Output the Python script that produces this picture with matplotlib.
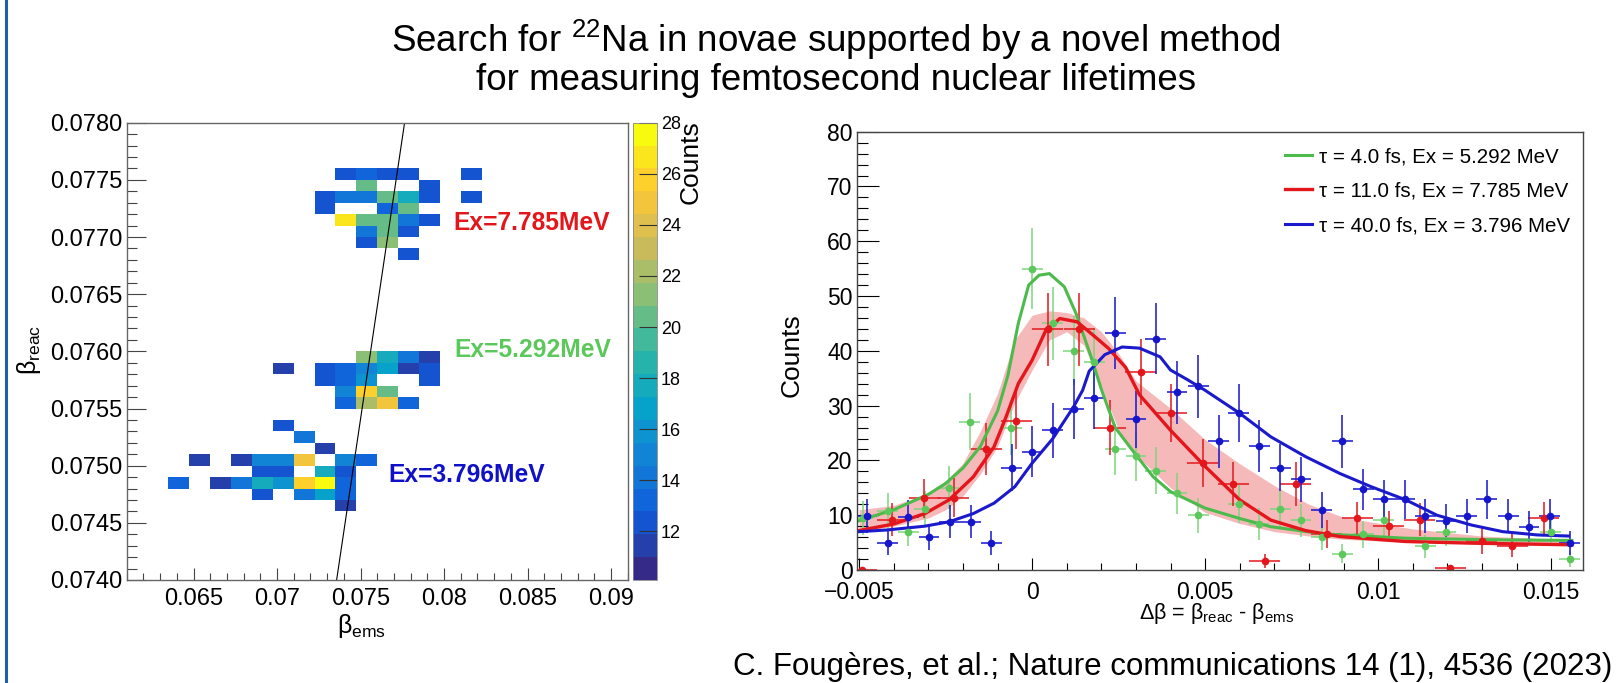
import numpy as np
import matplotlib
matplotlib.use("Agg")
import matplotlib.pyplot as plt
from matplotlib.colors import LinearSegmentedColormap, Normalize
from matplotlib.ticker import MultipleLocator, FuncFormatter
from matplotlib.lines import Line2D

plt.rcParams['font.family'] = ['Liberation Sans', 'DejaVu Sans']
plt.rcParams['mathtext.fontset'] = 'custom'
plt.rcParams['mathtext.rm'] = 'Liberation Sans'
plt.rcParams['mathtext.it'] = 'Liberation Sans:italic'
plt.rcParams['mathtext.bf'] = 'Liberation Sans:bold'

# ---- left panel: beta_reac vs beta_ems histogram (bin centres + counts)
ems = [0.073875, 0.075125, 0.076375, 0.077625, 0.081375,
       0.075125, 0.078875,
       0.072625, 0.073875, 0.075125, 0.076375, 0.077625, 0.078875, 0.081375,
       0.072625, 0.076375, 0.077625,
       0.073875, 0.075125, 0.076375, 0.077625, 0.078875,
       0.075125, 0.076375, 0.077625,
       0.075125, 0.076375,
       0.077625,
       0.075125, 0.076375, 0.077625, 0.078875,
       0.070125, 0.072625, 0.073875, 0.075125, 0.076375, 0.077625, 0.078875,
       0.072625, 0.073875, 0.075125, 0.078875,
       0.073875, 0.075125, 0.076375,
       0.073875, 0.075125, 0.076375, 0.077625,
       0.070125, 0.071375, 0.072625,
       0.065125, 0.067625, 0.068875, 0.070125, 0.071375, 0.073875, 0.075125,
       0.068875, 0.070125, 0.072625, 0.073875,
       0.063875, 0.066375, 0.067625, 0.068875, 0.070125, 0.071375, 0.072625, 0.073875,
       0.068875, 0.071375, 0.072625, 0.073875,
       0.073875]
reac = [0.07755] * 5 + [0.07745] * 2 + [0.07735] * 7 + [0.07725] * 3 + \
       [0.07715] * 5 + [0.07705] * 3 + [0.07695] * 2 + [0.07685] + \
       [0.07595] * 4 + [0.07585] * 7 + [0.07575] * 4 + [0.07565] * 3 + \
       [0.07555] * 4 + [0.07535, 0.07525, 0.07515] + [0.07505] * 7 + \
       [0.07495] * 4 + [0.07485] * 8 + [0.07475] * 4 + [0.07465]
counts = [12, 13.5, 12, 12, 12,
          20, 12,
          12, 14, 14, 20, 17.5, 12, 12,
          12, 13.5, 20,
          27, 20, 20, 14, 12,
          14, 20, 12,
          12, 21.5,
          12,
          21.5, 17.5, 14, 11.5,
          11, 12.5, 13.5, 15, 17, 11, 12,
          12.5, 13, 16, 12,
          15, 26, 20,
          13, 22, 24.5, 13,
          12.5, 14, 11,
          11, 11, 15, 15, 24.5, 15, 13,
          12, 12, 18, 12,
          13, 11, 14.5, 18, 15.5, 26, 28, 13,
          12.5, 14.5, 17, 13.5,
          11]
cut_ems = [0.07357, 0.07764]
cut_reac = [0.0740, 0.0780]
z_ticks = [12, 14, 16, 18, 20, 22, 24, 26, 28]

# ---- right panel: data points
green_x = [-0.0049, -0.00417, -0.00358, -0.0031, -0.0024, -0.0018, -0.0006, 0.0, 0.00059, 0.0012,
           0.0018, 0.0024, 0.003, 0.00357, 0.00419, 0.0048, 0.00597, 0.00656, 0.00717, 0.00777,
           0.00837, 0.00896, 0.00957, 0.01016, 0.01136, 0.01196, 0.01499, 0.01554]
green_y = [9.5, 10.8, 7.0, 11.1, 15.0, 27.1, 26.0, 55.0, 45.0, 40.0,
           38.0, 22.0, 20.8, 18.1, 14.0, 10.0, 12.0, 8.4, 11.1, 9.1,
           6.1, 3.0, 6.5, 9.1, 4.3, 7.0, 7.0, 2.0]
green_yerr = [3.1, 3.3, 2.6, 3.3, 3.9, 5.2, 5.1, 7.4, 6.7, 6.3,
              6.2, 4.7, 4.6, 4.3, 3.7, 3.2, 3.5, 2.9, 3.3, 3.0,
              2.5, 1.7, 2.5, 3.0, 2.1, 2.6, 2.6, 1.4]
green_xerr = 0.0003

red_x = [-0.00492, -0.00404, -0.00312, -0.00226, -0.00132, -0.00046, 0.00045, 0.00136, 0.00225,
         0.00314, 0.00402, 0.00493, 0.00582, 0.00672, 0.00762, 0.00851, 0.0094, 0.0103, 0.0112,
         0.01209, 0.01299, 0.01388, 0.01478]
red_y = [0.0, 9.2, 13.1, 13.2, 22.1, 27.2, 43.9, 43.9, 26.0,
         36.2, 28.6, 19.6, 15.7, 1.6, 15.7, 6.6, 9.4, 8.0, 9.2,
         0.3, 5.3, 4.4, 9.4]
red_yerr = [0, 3.0, 3.6, 3.6, 4.7, 5.2, 6.6, 6.6, 5.1,
            6.0, 5.3, 4.4, 4.0, 1.3, 4.0, 2.6, 3.1, 2.8, 3.0,
            0.5, 2.3, 2.1, 3.1]
red_xerr = 0.00045

blue_x = [-0.00478, -0.00417, -0.00358, -0.00298, -0.00238, -0.00178, -0.00118, -0.00059, 0.0,
          0.00059, 0.0012, 0.00179, 0.0024, 0.003, 0.00357, 0.00419, 0.0048, 0.00539, 0.00597,
          0.00657, 0.00717, 0.00777, 0.00837, 0.00896, 0.00957, 0.01016, 0.01077, 0.01136,
          0.01196, 0.01256, 0.01314, 0.01376, 0.01436, 0.01496, 0.01554]
blue_y = [9.9, 4.9, 9.7, 6.0, 8.8, 8.8, 4.9, 18.7, 21.6,
          25.5, 29.4, 31.4, 43.2, 27.5, 42.2, 32.4, 33.5, 23.5, 28.6,
          22.6, 18.7, 16.6, 10.9, 23.5, 14.7, 12.9, 12.9, 9.9,
          9.0, 9.9, 12.9, 9.9, 7.9, 9.9, 4.9]
blue_yerr = [3.1, 2.2, 3.1, 2.4, 3.0, 3.0, 2.2, 4.3, 4.6,
             5.0, 5.4, 5.6, 6.6, 5.2, 6.5, 5.7, 5.8, 4.8, 5.3,
             4.8, 4.3, 4.1, 3.3, 4.8, 3.8, 3.6, 3.6, 3.1,
             3.0, 3.1, 3.6, 3.1, 2.8, 3.1, 2.2]
blue_xerr = 0.0003

# ---- right panel: fitted curves
gfit_x = [-0.005, -0.004, -0.003, -0.0025, -0.002, -0.0015, -0.001, -0.0007, -0.0004, -0.0001,
          0.0002, 0.0005, 0.00093, 0.00127, 0.0017, 0.002, 0.0024, 0.003, 0.0035, 0.004,
          0.005, 0.006, 0.0069, 0.0084, 0.0108, 0.0136, 0.0156]
gfit_y = [9.0, 11.0, 13.8, 15.8, 18.6, 22.5, 29.0, 35.5, 45.0, 52.0,
          53.8, 54.1, 51.7, 46.8, 39.0, 33.0, 26.0, 21.0, 17.0, 14.3,
          11.3, 9.4, 7.9, 6.6, 5.8, 5.5, 5.4]
rfit_x = [-0.005, -0.004, -0.0031, -0.0024, -0.0017, -0.0011, -0.00075, -0.0004, 0.0, 0.0004,
          0.0008, 0.0013, 0.0017, 0.0022, 0.0027, 0.0031, 0.004, 0.005, 0.006, 0.0069,
          0.0079, 0.0089, 0.0108, 0.0127, 0.0156]
rfit_y = [7.2, 8.4, 10.3, 12.8, 17.0, 22.5, 28.0, 34.0, 38.3, 43.8,
          45.9, 45.3, 43.2, 40.5, 37.0, 32.0, 25.5, 18.9, 12.8, 9.1,
          7.2, 6.1, 5.2, 4.9, 4.6]
bfit_x = [-0.005, -0.0042, -0.0031, -0.0024, -0.0017, -0.0011, -0.0005, 0.0, 0.0006, 0.0012,
          0.00146, 0.00165, 0.0021, 0.0026, 0.0031, 0.0037, 0.004, 0.0045, 0.005, 0.006,
          0.0069, 0.0079, 0.0089, 0.0098, 0.0108, 0.0117, 0.0127, 0.0136, 0.0146, 0.0155]
bfit_y = [7.0, 7.3, 8.0, 8.8, 10.3, 12.2, 15.2, 19.5, 24.0, 29.8,
          32.8, 36.3, 39.3, 40.7, 40.5, 38.9, 36.5, 34.7, 32.8, 28.6,
          24.3, 20.7, 17.6, 15.2, 12.8, 10.0, 8.2, 7.0, 6.4, 6.2]
band_x = [-0.005, -0.004, -0.003, -0.0025, -0.002, -0.0015, -0.001, -0.0005, 0.0, 0.0005,
          0.001, 0.0015, 0.002, 0.0025, 0.003, 0.004, 0.005, 0.006, 0.007, 0.008,
          0.009, 0.011, 0.013, 0.0156]
band_lo = [7.0, 8.0, 9.5, 11.0, 13.5, 17.5, 22.5, 30.5, 36.5, 42.0,
           43.5, 41.0, 33.5, 25.5, 21.0, 15.0, 10.5, 8.5, 7.0, 6.2,
           5.6, 5.0, 4.8, 4.5]
band_hi = [11.0, 11.8, 14.0, 16.2, 19.5, 25.3, 32.2, 42.0, 46.5, 47.3,
           47.0, 46.0, 43.5, 39.5, 34.5, 29.5, 23.8, 19.4, 15.4, 12.0,
           9.6, 7.5, 6.2, 5.5]
labels = ['τ = 4.0 fs, Ex = 5.292 MeV', 'τ = 11.0 fs, Ex = 7.785 MeV', 'τ = 40.0 fs, Ex = 3.796 MeV']

W, H = 1624, 683


def box(l, t, r, b):
    return [l / W, 1 - b / H, (r - l) / W, (b - t) / H]


fig = plt.figure(figsize=(W / 100, H / 100), dpi=100)
fig.patch.set_facecolor('white')
fig.add_artist(Line2D([6 / W, 6 / W], [0, 1], color='#1f5fae', lw=2.2))

fig.text(836 / W, 1 - 40 / H, 'Search for $\\mathregular{^{22}}$Na in novae supported by a novel method',
         ha='center', va='center', fontsize=26.5)
fig.text(836 / W, 1 - 81 / H, 'for measuring femtosecond nuclear lifetimes',
         ha='center', va='center', fontsize=26.5)
fig.text(1612 / W, 1 - 675 / H, 'C. Fougères, et al.; Nature communications 14 (1), 4536 (2023)',
         ha='right', va='baseline', fontsize=22.5)

# left panel
bird = LinearSegmentedColormap.from_list('bird', [
    (0.0, (0.2082, 0.1664, 0.5293)), (0.125, (0.0592, 0.3599, 0.8684)),
    (0.25, (0.0780, 0.5041, 0.8385)), (0.375, (0.0232, 0.6419, 0.7914)),
    (0.5, (0.1802, 0.7178, 0.6425)), (0.625, (0.5301, 0.7492, 0.4662)),
    (0.75, (0.8186, 0.7328, 0.3499)), (0.875, (0.9956, 0.7862, 0.1968)),
    (1.0, (0.9764, 0.9832, 0.0539))], N=20)
norm = Normalize(10.1, 28)
xedges = np.linspace(0.061, 0.091, 25)
yedges = np.linspace(0.074, 0.078, 41)
h, _, _ = np.histogram2d(ems, reac, bins=[xedges, yedges], weights=counts)

ax1 = fig.add_axes(box(126.7, 122.7, 627.7, 580))
mesh = ax1.pcolormesh(xedges, yedges, np.ma.masked_equal(h.T, 0), cmap=bird, norm=norm)
ax1.plot(cut_ems, cut_reac, color='black', lw=0.8)
ax1.set_xlim(0.061, 0.091)
ax1.set_ylim(0.074, 0.078)
ax1.xaxis.set_major_locator(MultipleLocator(0.005))
ax1.xaxis.set_minor_locator(MultipleLocator(0.001))
ax1.yaxis.set_major_locator(MultipleLocator(0.0005))
ax1.yaxis.set_minor_locator(MultipleLocator(0.0001))
ax1.xaxis.set_major_formatter(FuncFormatter(lambda v, p: f"{round(v, 4):g}"))
ax1.yaxis.set_major_formatter(FuncFormatter(lambda v, p: f"{v:.4f}"))
ax1.tick_params(which='both', direction='in', top=False, right=False, labelsize=17, width=0.8, color='#444444')
ax1.tick_params(axis='y', which='major', length=13.5, pad=3)
ax1.tick_params(axis='y', which='minor', length=7)
ax1.tick_params(axis='x', which='major', length=9, pad=6)
ax1.tick_params(axis='x', which='minor', length=5)
for s in ax1.spines.values():
    s.set_color('#666666')
    s.set_linewidth(1.0)

fig.text(453 / W, 1 - 223 / H, 'Ex=7.785MeV', color='#e3161c', fontsize=17.7, fontweight='bold', va='center')
fig.text(454 / W, 1 - 350 / H, 'Ex=5.292MeV', color='#5cc85c', fontsize=17.7, fontweight='bold', va='center')
fig.text(388 / W, 1 - 475 / H, 'Ex=3.796MeV', color='#1010c8', fontsize=17.7, fontweight='bold', va='center')
fig.text(29 / W, 1 - 350 / H, 'β$_{\\mathregular{reac}}$', rotation=90, ha='center', va='center', fontsize=18)
fig.text(362 / W, 1 - 626 / H, 'β$_{\\mathregular{ems}}$', ha='center', va='center', fontsize=18)

cax = fig.add_axes(box(633.3, 122.7, 656.7, 580))
cb = fig.colorbar(mesh, cax=cax, ticks=z_ticks)
cb.outline.set_linewidth(0.6)
cb.outline.set_edgecolor('#888888')
cax.tick_params(direction='in', length=13, width=0.8, labelsize=13, pad=3, color='#333333')
fig.text(691 / W, 1 - 120 / H, 'Counts', rotation=90, ha='center', va='top', fontsize=19)

# right panel
ax2 = fig.add_axes(box(856.7, 131.7, 1583.3, 570))
ax2.fill_between(band_x, band_lo, band_hi, color='#f6b9b9', lw=0)
ax2.errorbar(green_x, green_y, yerr=green_yerr, xerr=green_xerr, fmt='o', ms=4.5, color='#5cc85c',
             ecolor='#7fd47f', elinewidth=1.1, capsize=0)
ax2.errorbar(red_x, red_y, yerr=red_yerr, xerr=red_xerr, fmt='o', ms=4.5, color='#e3161c',
             ecolor='#e3161c', elinewidth=1.1, capsize=0)
ax2.errorbar(blue_x, blue_y, yerr=blue_yerr, xerr=blue_xerr, fmt='o', ms=4.5, color='#1515cc',
             ecolor='#1515cc', elinewidth=1.1, capsize=0)
ax2.plot(gfit_x, gfit_y, color='#4cbb4c', lw=2.2, label=labels[0])
ax2.plot(rfit_x, rfit_y, color='#e3161c', lw=2.4, label=labels[1])
ax2.plot(bfit_x, bfit_y, color='#1a1acc', lw=2.2, label=labels[2])
ax2.set_xlim(-0.00507, 0.01593)
ax2.set_ylim(0, 80)
ax2.xaxis.set_major_locator(MultipleLocator(0.005))
ax2.xaxis.set_minor_locator(MultipleLocator(0.001))
ax2.yaxis.set_major_locator(MultipleLocator(10))
ax2.yaxis.set_minor_locator(MultipleLocator(2))
ax2.xaxis.set_major_formatter(FuncFormatter(lambda v, p: f"{round(v, 4):g}".replace('-', '\u2212')))
ax2.tick_params(which='both', direction='in', top=False, right=False, labelsize=16.5, width=0.8)
ax2.tick_params(axis='y', which='major', length=15.5, pad=3)
ax2.tick_params(axis='y', which='minor', length=8)
ax2.tick_params(axis='x', which='major', length=8.6, pad=8)
ax2.tick_params(axis='x', which='minor', length=5)
for s in ax2.spines.values():
    s.set_color('#444444')
    s.set_linewidth(1.0)
ax2.legend(loc='upper right', bbox_to_anchor=(0.982, 0.965), frameon=False, fontsize=14.8,
           handlelength=1.33, handletextpad=0.35, labelspacing=0.76, borderpad=0, borderaxespad=0)
fig.text(792 / W, 1 - 355 / H, 'Counts', rotation=90, ha='center', va='center', fontsize=19)
fig.text(1217 / W, 1 - 619 / H, 'Δβ = β$_{\\mathregular{reac}}$ - β$_{\\mathregular{ems}}$',
         ha='center', va='baseline', fontsize=15.5)

fig.savefig('out.png', dpi=100)
